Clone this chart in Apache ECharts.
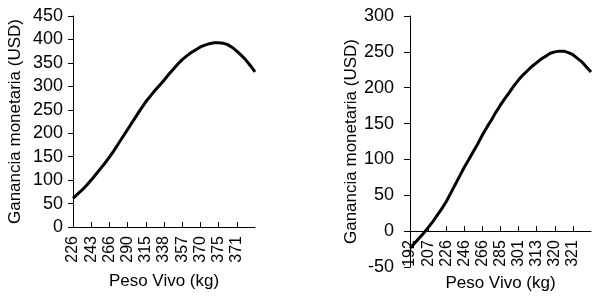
<!DOCTYPE html>
<html>
<head>
<meta charset="utf-8">
<script src="https://cdn.jsdelivr.net/npm/echarts@6/dist/echarts.min.js"></script>
<style>
html,body{margin:0;padding:0;background:#fff;}
#chart{width:600px;height:296px;}
</style>
</head>
<body>
<div id="chart"></div>
<script>
// Left panel: categories (Peso Vivo, kg) and ganancia (USD)
const leftWeights = [226,230,234,238,243,249,254,260,266,272,278,284,290,296,302,308,315,321,327,332,338,343,348,353,357,360,364,367,370,372,373,374,375,375,374,373,371,370,368,366,364];
const leftGain = [61,70,79,89,100,112,124,136,149,163,178,193,208,223,238,253,267,279,291,302,313,325,336,347,357,365,372,378,384,388,391,393,393,392,389,383,375,366,356,344,331];
// Right panel
const rightWeights = [192,196,199,203,207,212,216,221,226,231,236,241,246,251,256,261,266,271,276,280,285,289,293,297,301,304,307,310,313,315,317,318,320,321,321,321,321,320,319,318,317];
const rightGain = [-24,-17,-10,-3,5,13,22,31,41,53,65,77,89,100,111,122,134,145,155,166,176,185,194,203,211,218,224,230,235,240,244,248,250,251,251,249,246,241,236,229,222];

const xName = 'Peso Vivo (kg)';
const yName = 'Ganancia monetaria (USD)';
const leftY = {min: 0, max: 450, interval: 50};
const rightY = {min: -50, max: 300, interval: 50};

const FONT = 'Liberation Sans, Arial, sans-serif';
const TXT = '#000';

const GRID_L = {left: 73, top: 16, width: 182, height: 211};
const GRID_R = {left: 410, top: 16, width: 181, height: 251};
// right x-axis sits at value 0: shift up from the grid bottom
const rightZeroOffset = -GRID_R.height * (0 - rightY.min) / (rightY.max - rightY.min);

function showIdx(n){ return function(i){ return i % 4 === 0 && i < n - 1; }; }

function xAxis(gridIndex, cats, nameGap, offset){
  return {
    type: 'category', gridIndex, data: cats.map(String), boundaryGap: false,
    position: 'bottom', offset,
    name: xName, nameLocation: 'middle', nameGap,
    nameTextStyle: {fontFamily: FONT, fontSize: 17, color: TXT},
    axisLine: {onZero: false, lineStyle: {color: '#000', width: 1}},
    axisTick: {show: true, inside: true, length: 5, interval: showIdx(cats.length), lineStyle: {color: '#000'}},
    axisLabel: {rotate: 90, interval: showIdx(cats.length), margin: 9, fontFamily: FONT, fontSize: 16, color: TXT},
    splitLine: {show: false}
  };
}
function yAxis(gridIndex, r, nameGap, margin, tickLen){
  return {
    type: 'value', gridIndex, min: r.min, max: r.max, interval: r.interval,
    name: yName, nameLocation: 'middle', nameRotate: 90, nameGap,
    nameTextStyle: {fontFamily: FONT, fontSize: 17, color: TXT},
    axisLine: {show: true, onZero: false, lineStyle: {color: '#000', width: 1}},
    axisTick: {show: true, length: tickLen, lineStyle: {color: '#000'}},
    axisLabel: {margin, fontFamily: FONT, fontSize: 18, color: TXT},
    splitLine: {show: false}
  };
}

const chart = echarts.init(document.getElementById('chart'), null, {renderer: 'canvas'});
chart.setOption({
  animation: false,
  backgroundColor: '#fff',
  grid: [
    Object.assign({containLabel: false, outerBoundsMode: 'none'}, GRID_L),
    Object.assign({containLabel: false, outerBoundsMode: 'none'}, GRID_R)
  ],
  xAxis: [xAxis(0, leftWeights, 46, 0), xAxis(1, rightWeights, 42, rightZeroOffset)],
  yAxis: [yAxis(0, leftY, 49, 10, 5), yAxis(1, rightY, 49, 16, 6)],
  series: [
    {type: 'line', xAxisIndex: 0, yAxisIndex: 0, data: leftGain, showSymbol: false, smooth: false,
     lineStyle: {color: '#000', width: 3}},
    {type: 'line', xAxisIndex: 1, yAxisIndex: 1, data: rightGain, showSymbol: false, smooth: false,
     lineStyle: {color: '#000', width: 3}}
  ]
});
</script>
</body>
</html>
